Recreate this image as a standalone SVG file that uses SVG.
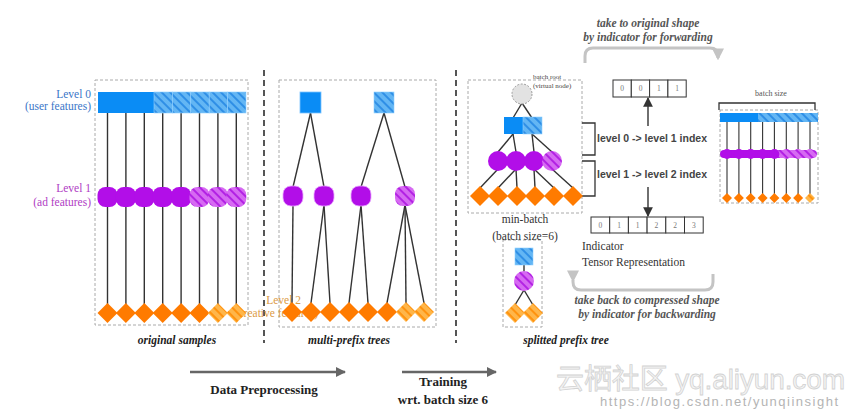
<svg xmlns="http://www.w3.org/2000/svg" width="846" height="412" viewBox="0 0 846 412">
<defs>
<pattern id="hb" width="6" height="6" patternUnits="userSpaceOnUse" patternTransform="rotate(-45)"><rect width="6" height="6" fill="#63b6f4"/><rect width="2" height="6" fill="#2f8fe6"/></pattern>
<pattern id="hp" width="6" height="6" patternUnits="userSpaceOnUse" patternTransform="rotate(-45)"><rect width="6" height="6" fill="#d66af2"/><rect width="2" height="6" fill="#b322e4"/></pattern>
<pattern id="ho" width="6" height="6" patternUnits="userSpaceOnUse" patternTransform="rotate(-45)"><rect width="6" height="6" fill="#ffb64a"/><rect width="2" height="6" fill="#ff930f"/></pattern>
<path id="dia" d="M0,-10 L10,0 L0,10 L-10,0Z"/>
<path id="dsm" d="M0,-5 L5,0 L0,5 L-5,0Z"/>
<rect id="rnd" x="-10" y="-10" width="20" height="20" rx="8"/>
<marker id="ah" viewBox="0 0 10 10" refX="9" refY="5" markerWidth="7" markerHeight="7" orient="auto"><path d="M0,0 L10,5 L0,10Z" fill="#333"/></marker>
<marker id="ahg" viewBox="0 0 10 10" refX="8" refY="5" markerWidth="4" markerHeight="4" orient="auto"><path d="M0,0 L10,5 L0,10Z" fill="#c4c4c4"/></marker>
<marker id="ahd" viewBox="0 0 10 10" refX="9" refY="5" markerWidth="4" markerHeight="4" orient="auto"><path d="M0,0 L10,5 L0,10Z" fill="#666"/></marker>
</defs>
<style>
.box{fill:none;stroke:#aaa;stroke-width:1;stroke-dasharray:3 2}
.sep{stroke:#555;stroke-width:2;stroke-dasharray:6 4}
.e{stroke:#333;stroke-width:1.4;fill:none}
.es{stroke:#333;stroke-width:1.1;fill:none}
.bs{fill:#0a8cf5}
.bh{fill:url(#hb);stroke:#8fd0ff;stroke-width:0.6}
.ps{fill:#b20ee8}
.ph{fill:url(#hp)}
.os{fill:#ff7b00}
.oh{fill:url(#ho)}
.lab{font-family:"Liberation Serif",serif;font-size:11.5px}
.cap{font-family:"Liberation Serif",serif;font-size:11.5px;font-style:italic;font-weight:bold;fill:#222;text-anchor:middle}
.gcap{font-family:"Liberation Serif",serif;font-size:11.5px;font-style:italic;font-weight:bold;fill:#555;text-anchor:middle}
.idx{font-family:"Liberation Sans",sans-serif;font-size:10.5px;font-weight:bold;fill:#444}
.cell{fill:#fff;stroke:#333;stroke-width:1}
.num{font-family:"Liberation Serif",serif;font-size:7.5px;fill:#777;text-anchor:middle}
.big{font-family:"Liberation Serif",serif;font-size:13px;font-weight:bold;fill:#222;text-anchor:middle}
.brk{fill:none;stroke:#333;stroke-width:1.3}
.gbr{fill:none;stroke:#c4c4c4;stroke-width:3}
</style>

<!-- separators and boxes -->
<line class="sep" x1="264" y1="70" x2="264" y2="343"/>
<line class="sep" x1="456" y1="70" x2="456" y2="343"/>
<rect class="box" x="95" y="80" width="153" height="245"/>
<rect class="box" x="279" y="80" width="157" height="247"/>
<rect class="box" x="468" y="80" width="114" height="133"/>
<rect class="box" x="503" y="240" width="39" height="87"/>
<rect class="box" x="720" y="110" width="98" height="93"/>

<!-- level labels -->
<g id="labels">
<text class="lab" x="91" y="98" text-anchor="end" fill="#3a76c8">Level 0</text>
<text class="lab" x="91" y="110" text-anchor="end" fill="#3a76c8">(user features)</text>
<text class="lab" x="91" y="192" text-anchor="end" fill="#b03cc4">Level 1</text>
<text class="lab" x="91" y="206" text-anchor="end" fill="#b03cc4">(ad features)</text>
<text class="lab" x="301" y="304" text-anchor="end" fill="#dc9a45" font-size="10.5">Level 2</text>
<text class="lab" x="318" y="317" text-anchor="end" fill="#dc9a45" font-size="10.5">(creative features)</text>
</g>

<!-- connectors -->
<g id="connectors">
<g class="e">
<line x1="107.5" y1="113" x2="107.5" y2="305"/><line x1="125.9" y1="113" x2="125.9" y2="305"/>
<line x1="144.3" y1="113" x2="144.3" y2="305"/><line x1="162.7" y1="113" x2="162.7" y2="305"/>
<line x1="181.1" y1="113" x2="181.1" y2="305"/><line x1="199.5" y1="113" x2="199.5" y2="305"/>
<line x1="217.9" y1="113" x2="217.9" y2="305"/><line x1="236.3" y1="113" x2="236.3" y2="305"/>
<line x1="310.5" y1="113" x2="293" y2="187"/><line x1="310.5" y1="113" x2="324" y2="187"/>
<line x1="384" y1="113" x2="361" y2="187"/><line x1="384" y1="113" x2="405" y2="187"/>
<line x1="293" y1="205" x2="292" y2="303"/>
<line x1="324" y1="205" x2="311" y2="303"/><line x1="324" y1="205" x2="330" y2="303"/>
<line x1="361" y1="205" x2="349" y2="303"/><line x1="361" y1="205" x2="368" y2="303"/>
<line x1="405" y1="205" x2="387" y2="303"/><line x1="405" y1="205" x2="406" y2="303"/><line x1="405" y1="205" x2="424" y2="303"/>
<line x1="522" y1="103" x2="513" y2="118"/><line x1="522" y1="103" x2="532" y2="118"/>
<line x1="513" y1="134" x2="498" y2="152"/><line x1="513" y1="134" x2="516" y2="152"/>
<line x1="532" y1="134" x2="534" y2="152"/><line x1="532" y1="134" x2="552" y2="152"/>
<line x1="498" y1="169" x2="480" y2="188"/>
<line x1="516" y1="169" x2="498" y2="188"/><line x1="516" y1="169" x2="517" y2="188"/>
<line x1="534" y1="169" x2="535" y2="188"/><line x1="534" y1="169" x2="554" y2="188"/>
<line x1="552" y1="169" x2="573" y2="188"/>
<line x1="524" y1="265" x2="524" y2="272"/>
<line x1="524" y1="290" x2="515" y2="305"/><line x1="524" y1="290" x2="533" y2="305"/>
</g>
<g class="es">
<line x1="727" y1="122" x2="727" y2="198"/><line x1="738.9" y1="122" x2="738.9" y2="198"/>
<line x1="750.7" y1="122" x2="750.7" y2="198"/><line x1="762.6" y1="122" x2="762.6" y2="198"/>
<line x1="774.4" y1="122" x2="774.4" y2="198"/><line x1="786.3" y1="122" x2="786.3" y2="198"/>
<line x1="798.1" y1="122" x2="798.1" y2="198"/><line x1="810" y1="122" x2="810" y2="198"/>
</g>
<!-- index arrows -->
<line x1="648" y1="126" x2="648" y2="98" stroke="#333" stroke-width="1.4" marker-end="url(#ah)"/>
<line x1="648" y1="187" x2="648" y2="216" stroke="#333" stroke-width="1.4" marker-end="url(#ah)"/>
<!-- brackets -->
<path class="brk" d="M582,123 H595 V155 H582"/>
<path class="brk" d="M582,161 H595 V196 H582"/>
<path class="brk" d="M719,110 V103 H815 V110"/>
<!-- gray curved arrows -->
<path class="gbr" d="M585,63 V56 Q585,48 593,48 H710 Q718,48 718,56 V58" marker-end="url(#ahg)"/>
<path class="gbr" d="M573,280 V282 Q573,290 581,290 H705 Q713,290 713,282 V274" marker-start="url(#ahg)"/>
<!-- bottom arrows -->
<line x1="190" y1="372" x2="345" y2="372" stroke="#666" stroke-width="2.5" marker-end="url(#ahd)"/>
<line x1="402" y1="372" x2="496" y2="372" stroke="#666" stroke-width="2.5" marker-end="url(#ahd)"/>
</g>

<!-- panel 1: original samples -->
<g id="orig-level0">
<rect class="bs" x="98" y="92" width="56" height="21"/>
<rect class="bh" x="154" y="92" width="18.4" height="21"/><rect class="bh" x="172.4" y="92" width="18.4" height="21"/>
<rect class="bh" x="190.8" y="92" width="18.4" height="21"/><rect class="bh" x="209.2" y="92" width="18.4" height="21"/>
<rect class="bh" x="227.6" y="92" width="18.4" height="21"/>
</g>
<g id="orig-level1">
<use href="#rnd" class="ps" x="107.5" y="197"/><use href="#rnd" class="ps" x="125.9" y="197"/>
<use href="#rnd" class="ps" x="144.3" y="197"/><use href="#rnd" class="ps" x="162.7" y="197"/>
<use href="#rnd" class="ps" x="181.1" y="197"/><use href="#rnd" class="ph" x="199.5" y="197"/>
<use href="#rnd" class="ph" x="217.9" y="197"/><use href="#rnd" class="ph" x="236.3" y="197"/>
</g>
<g id="orig-level2">
<use href="#dia" class="os" x="107.5" y="313"/><use href="#dia" class="os" x="125.9" y="313"/>
<use href="#dia" class="os" x="144.3" y="313"/><use href="#dia" class="os" x="162.7" y="313"/>
<use href="#dia" class="os" x="181.1" y="313"/><use href="#dia" class="os" x="199.5" y="313"/>
<use href="#dia" class="oh" x="217.9" y="313"/><use href="#dia" class="oh" x="236.3" y="313"/>
</g>

<!-- panel 2: multi-prefix trees -->
<g id="tree-u1"><rect class="bs" x="300" y="92" width="21" height="21" stroke="#7cc4ff" stroke-width="0.8"/></g>
<g id="tree-u2"><rect class="bh" x="374" y="92" width="20" height="21"/></g>
<g id="tree-a1"><use href="#rnd" class="ps" x="293" y="196" stroke="#e9a6ff" stroke-width="0.8"/></g>
<g id="tree-a2"><use href="#rnd" class="ps" x="324" y="196" stroke="#e9a6ff" stroke-width="0.8"/></g>
<g id="tree-a3"><use href="#rnd" class="ps" x="361" y="196" stroke="#e9a6ff" stroke-width="0.8"/></g>
<g id="tree-a4"><use href="#rnd" class="ph" x="405" y="196"/></g>
<g id="tree-c">
<use href="#dia" class="os" x="292" y="312"/><use href="#dia" class="os" x="311" y="312"/>
<use href="#dia" class="os" x="330" y="312"/><use href="#dia" class="os" x="349" y="312"/>
<use href="#dia" class="os" x="368" y="312"/><use href="#dia" class="os" x="387" y="312"/>
<use href="#dia" class="oh" x="406" y="312"/><use href="#dia" class="oh" x="424" y="312"/>
</g>

<!-- panel 3: min-batch -->
<g id="batch-root">
<circle cx="522" cy="94" r="10" fill="#e2e2e2" stroke="#999" stroke-width="1" stroke-dasharray="2 1.5"/>
<text x="533" y="79" font-family="Liberation Serif,serif" font-size="7" fill="#444">batch root</text>
<text x="533" y="88" font-family="Liberation Serif,serif" font-size="7" fill="#444">(virtual node)</text>
</g>
<g id="batch-user">
<rect class="bs" x="504" y="117" width="19" height="17"/>
<rect class="bh" x="523" y="117" width="19" height="17"/>
</g>
<g id="batch-ad">
<circle class="ps" cx="498" cy="161" r="10"/><circle class="ps" cx="516" cy="161" r="10"/>
<circle class="ps" cx="534" cy="161" r="10"/><circle class="ph" cx="552" cy="161" r="10"/>
</g>
<g id="batch-c">
<use href="#dia" class="os" x="480" y="196"/><use href="#dia" class="os" x="498" y="196"/>
<use href="#dia" class="os" x="517" y="196"/><use href="#dia" class="os" x="535" y="196"/>
<use href="#dia" class="os" x="554" y="196"/><use href="#dia" class="os" x="573" y="196"/>
</g>
<text class="lab" x="525" y="223" text-anchor="middle" fill="#333">min-batch</text>
<text class="lab" x="525" y="240" text-anchor="middle" fill="#333">(batch size=6)</text>

<!-- panel 4: splitted prefix tree -->
<g id="split-u"><rect class="bh" x="515" y="248" width="18" height="17"/></g>
<g id="split-a"><circle class="ph" cx="524" cy="281" r="10"/></g>
<g id="split-c"><use href="#dia" class="oh" x="515" y="313"/><use href="#dia" class="oh" x="533" y="313"/></g>

<!-- indicator arrays -->
<g id="idx-top">
<rect class="cell" x="613" y="80" width="18.3" height="17"/><rect class="cell" x="631.3" y="80" width="18.3" height="17"/>
<rect class="cell" x="649.6" y="80" width="18.3" height="17"/><rect class="cell" x="667.9" y="80" width="18.3" height="17"/>
<text class="num" x="622" y="91">0</text><text class="num" x="640.5" y="91">0</text>
<text class="num" x="658.8" y="91">1</text><text class="num" x="677" y="91">1</text>
</g>
<g id="idx-bottom">
<rect class="cell" x="591" y="217" width="18.7" height="16"/><rect class="cell" x="609.7" y="217" width="18.7" height="16"/>
<rect class="cell" x="628.4" y="217" width="18.7" height="16"/><rect class="cell" x="647.1" y="217" width="18.7" height="16"/>
<rect class="cell" x="665.8" y="217" width="18.7" height="16"/><rect class="cell" x="684.5" y="217" width="18.7" height="16"/>
<text class="num" x="600.3" y="228">0</text><text class="num" x="619" y="228">1</text>
<text class="num" x="637.7" y="228">1</text><text class="num" x="656.4" y="228">2</text>
<text class="num" x="675.1" y="228">2</text><text class="num" x="693.8" y="228">3</text>
</g>
<text class="idx" x="597" y="142">level 0 -&gt; level 1 index</text>
<text class="idx" x="597" y="178">level 1 -&gt; level 2 index</text>
<text class="lab" x="582" y="250" fill="#333" font-size="12">Indicator</text>
<text class="lab" x="582" y="266" fill="#333" font-size="12">Tensor Representation</text>
<text class="gcap" x="648" y="27">take to original shape</text>
<text class="gcap" x="648" y="41">by indicator for forwarding</text>
<text class="gcap" x="647" y="304">take back to compressed shape</text>
<text class="gcap" x="647" y="318">by indicator for backwarding</text>

<!-- right mini diagram -->
<g id="mini">
<text x="771" y="96" font-family="Liberation Serif,serif" font-size="8" fill="#555" text-anchor="middle">batch size</text>
<rect class="bs" x="720" y="113" width="38" height="9"/>
<rect x="758" y="113" width="60" height="9" fill="url(#hb)"/>
<rect x="720" y="150" width="55" height="8" rx="4" class="ps"/>
<rect x="773" y="150" width="44" height="8" rx="4" class="ph"/>
<circle class="ps" cx="727" cy="154" r="5"/><circle class="ps" cx="738.9" cy="154" r="5"/>
<circle class="ps" cx="750.7" cy="154" r="5"/><circle class="ps" cx="762.6" cy="154" r="5"/>
<circle class="ps" cx="774.4" cy="154" r="5"/><circle class="ph" cx="786.3" cy="154" r="5"/>
<circle class="ph" cx="798.1" cy="154" r="5"/><circle class="ph" cx="810" cy="154" r="5"/>
<use href="#dsm" class="os" x="727" y="198"/><use href="#dsm" class="os" x="738.9" y="198"/>
<use href="#dsm" class="os" x="750.7" y="198"/><use href="#dsm" class="os" x="762.6" y="198"/>
<use href="#dsm" class="os" x="774.4" y="198"/><use href="#dsm" class="os" x="786.3" y="198"/>
<use href="#dsm" class="os" x="798.1" y="198"/><use href="#dsm" class="oh" x="810" y="198"/>
</g>

<!-- captions -->
<text class="cap" x="177" y="344">original samples</text>
<text class="cap" x="349" y="344">multi-prefix trees</text>
<text class="cap" x="566" y="344">splitted prefix tree</text>
<text class="big" x="264" y="394">Data Preprocessing</text>
<text class="big" x="443" y="386">Training</text>
<text class="big" x="443" y="404" font-size="12.5">wrt. batch size 6</text>

<!-- watermark -->
<text x="556" y="389" font-family="Liberation Sans,Noto Sans CJK SC,sans-serif" font-size="28" fill="#f4f4f4" stroke="#d2d2d2" stroke-width="0.8" textLength="289">云栖社区 yq.aliyun.com</text>
<text x="600" y="406" font-family="Liberation Sans,sans-serif" font-size="13" fill="#b4b4b4" textLength="238">https://blog.csdn.net/yunqiinsight</text>
</svg>
